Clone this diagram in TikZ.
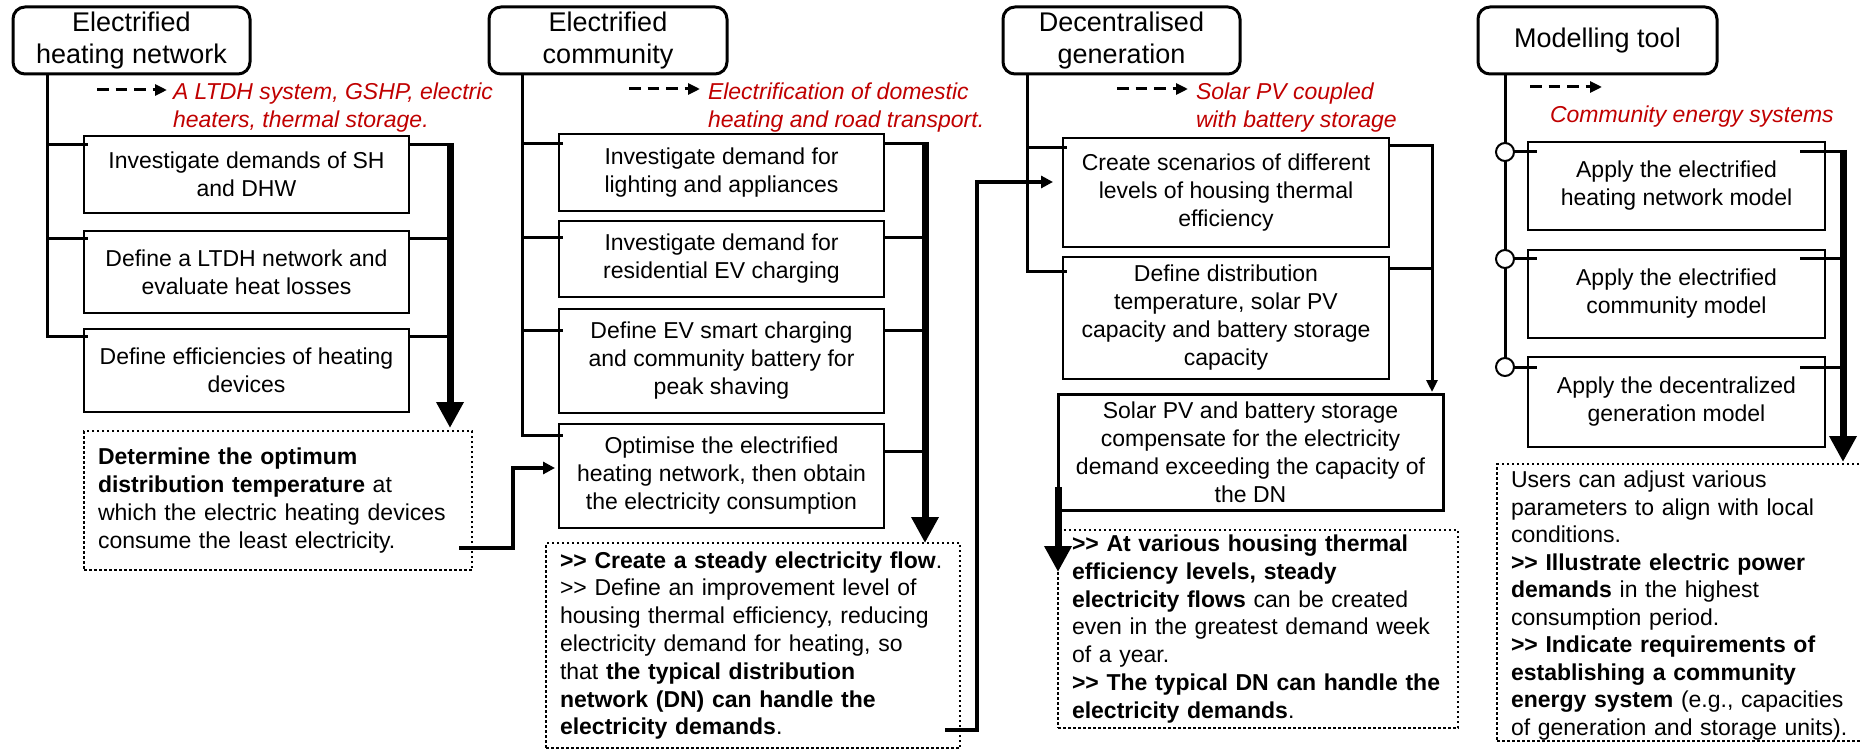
\documentclass[tikz,border=0pt]{standalone}
\usepackage{fontspec}
\setmainfont{Liberation Sans}
\usetikzlibrary{arrows.meta,calc}
\definecolor{myred}{RGB}{192,0,0}
\newcommand\GGt{>\kern0pt>}
\begin{document}
\begin{tikzpicture}[x=1pt,y=-1pt,
  every node/.style={inner sep=0pt, outer sep=0pt},
  ttl/.style={draw, line width=3pt, rounded corners=12pt, anchor=north west, align=center, font=\fontsize{27}{32.5}\selectfont},
  box/.style={draw, line width=2pt, anchor=north west, align=center, font=\fontsize{23}{28}\selectfont},
  note/.style={draw, line width=2.5pt, dash pattern=on 2.5pt off 2.5pt, anchor=north west, align=left, inner xsep=14pt, font=\fontsize{23}{27.8}\selectfont},
  redtxt/.style={anchor=north west, align=left, text=myred, font=\fontsize{23}{28}\selectfont\itshape},
  spine/.style={line width=3pt},
  branch/.style={line width=3pt},
  bigarrow/.style={line width=7pt, -{Triangle[length=26pt,width=26pt]}},
  conn/.style={line width=3.5pt, -{Triangle[length=12pt,width=12pt]}},
  thinarrow/.style={line width=3pt, -{Triangle[length=12pt,width=11pt]}},
  dasharrow/.style={line width=3pt, dash pattern=on 11.5pt off 7pt, -{Triangle[length=12pt,width=11pt]}},
]
\useasboundingbox (0,0) rectangle (1861,751);

% ================= Column 1 =================
\node[ttl, minimum width=237pt, minimum height=67pt] (t1) at (13,7) {Electrified\\heating network};
\node[redtxt] (r1) at (173,83) {A LTDH system, GSHP, electric\\heaters, thermal storage.};
\coordinate (da1) at (97,90);
\draw[dasharrow] (da1) -- ($(da1 -| r1.west)+(-6,0)$);
\node[box, minimum width=325pt, minimum height=77pt] (b11) at (84,136) {Investigate demands of SH\\and DHW};
\node[box, minimum width=325pt, minimum height=82pt] (b12) at (84,231) {Define a LTDH network and\\evaluate heat losses};
\node[box, minimum width=325pt, minimum height=83pt] (b13) at (84,329) {Define efficiencies of heating\\devices};
\node[note, minimum width=388pt, text width=360pt, minimum height=139pt] (d1) at (84,431)
 {\textbf{Determine the optimum}\\\textbf{distribution temperature} at\\which the electric heating devices\\consume the least electricity.};

\coordinate (s1) at (47,0);
\coordinate (v1) at (450,0);
\coordinate (k1) at (513,0);
\coordinate (j11) at ($(b11.north west)+(4,9)$);
\coordinate (j12) at ($(b12.north west)+(4,8)$);
\coordinate (j13) at ($(b13.north west)+(4,8)$);
\draw[spine] (t1.south -| s1) -- (s1 |- j13) -- (j13);
\draw[branch] (j11 -| s1) -- (j11);
\draw[branch] (j12 -| s1) -- (j12);
\coordinate (e11) at ($(b11.north east)+(0,9)$);
\coordinate (e12) at ($(b12.north east)+(0,8)$);
\coordinate (e13) at ($(b13.north east)+(0,8)$);
\draw[branch] (e11) -- (e11 -| v1);
\draw[branch] (e12) -- (e12 -| v1);
\draw[branch] (e13) -- (e13 -| v1);
\draw[bigarrow] ($(e11 -| v1)+(0,-2)$) -- ($(d1.north -| v1)+(0,-3)$);

% ================= Column 2 =================
\node[ttl, minimum width=238pt, minimum height=67pt] (t2) at (489,7) {Electrified\\community};
\node[redtxt] (r2) at (708,83) {Electrification of domestic\\heating and road transport.};
\coordinate (da2) at (629,89);
\draw[dasharrow] (da2) -- ($(da2 -| r2.west)+(-8,0)$);
\node[box, minimum width=325pt, minimum height=77pt] (b21) at (559,134) {Investigate demand for\\lighting and appliances};
\node[box, minimum width=325pt, minimum height=76pt] (b22) at (559,221) {Investigate demand for\\residential EV charging};
\node[box, minimum width=325pt, minimum height=104pt] (b23) at (559,309) {Define EV smart charging\\and community battery for\\peak shaving};
\node[box, minimum width=325pt, minimum height=104pt] (b24) at (559,424) {Optimise the electrified\\heating network, then obtain\\the electricity consumption};
\node[note, minimum width=414pt, text width=386pt, minimum height=205pt] (d2) at (546,543)
 {\textbf{\GGt{} Create a steady electricity flow}.\\\GGt{} Define an improvement level of\\housing thermal efficiency, reducing\\electricity demand for heating, so\\that \textbf{the typical distribution}\\\textbf{network (DN) can handle the}\\\textbf{electricity demands}.};

\coordinate (s2) at (522,0);
\coordinate (v2) at (925,0);
\coordinate (k2) at (977,0);
\coordinate (j21) at ($(b21.north west)+(4,10)$);
\coordinate (j22) at ($(b22.north west)+(4,17)$);
\coordinate (j23) at ($(b23.north west)+(4,22)$);
\coordinate (j24) at ($(b24.north west)+(4,11)$);
\draw[spine] (t2.south -| s2) -- (s2 |- j24) -- (j24);
\draw[branch] (j21 -| s2) -- (j21);
\draw[branch] (j22 -| s2) -- (j22);
\draw[branch] (j23 -| s2) -- (j23);
\coordinate (e21) at ($(b21.north east)+(0,10)$);
\coordinate (e22) at ($(b22.north east)+(0,17)$);
\coordinate (e23) at ($(b23.north east)+(0,22)$);
\coordinate (e24) at ($(b24.north east)+(0,27)$);
\draw[branch] (e21) -- (e21 -| v2);
\draw[branch] (e22) -- (e22 -| v2);
\draw[branch] (e23) -- (e23 -| v2);
\draw[branch] (e24) -- (e24 -| v2);
\draw[bigarrow] ($(e21 -| v2)+(0,-2)$) -- ($(d2.north -| v2)+(0,0)$);

% connector col1 -> col2
\coordinate (p1) at ($(d1.south east)+(-13,-22)$);
\coordinate (q1) at ($(b24.north west)+(-4,44)$);
\draw[conn] (p1) -| (k1 |- q1) -- (q1);

% ================= Column 3 =================
\node[ttl, minimum width=237pt, minimum height=67pt] (t3) at (1003,7) {Decentralised\\generation};
\node[redtxt] (r3) at (1196,83) {Solar PV coupled\\with battery storage};
\coordinate (da3) at (1117,89);
\draw[dasharrow] (da3) -- ($(da3 -| r3.west)+(-8,0)$);
\node[box, minimum width=326pt, minimum height=109pt] (b31) at (1063,138) {Create scenarios of different\\levels of housing thermal\\efficiency};
\node[box, minimum width=326pt, minimum height=122pt] (b32) at (1063,257) {Define distribution\\temperature, solar PV\\capacity and battery storage\\capacity};
\node[box, line width=3pt, minimum width=385pt, minimum height=116pt] (b33) at (1058,394) {Solar PV and battery storage\\compensate for the electricity\\demand exceeding the capacity of\\the DN};
\node[note, minimum width=400pt, text width=372pt, minimum height=198pt] (d3) at (1058,530)
 {\textbf{\GGt{} At various housing thermal}\\\textbf{efficiency levels, steady}\\\textbf{electricity flows} can be created\\even in the greatest demand week\\of a year.\\\textbf{\GGt{} The typical DN can handle the}\\\textbf{electricity demands}.};

\coordinate (s3) at (1027,0);
\coordinate (v3) at (1432,0);
\coordinate (j31) at ($(b31.north west)+(4,10)$);
\coordinate (j32) at ($(b32.north west)+(4,15)$);
\draw[spine] (t3.south -| s3) -- (s3 |- j32) -- (j32);
\draw[branch] (j31 -| s3) -- (j31);
\coordinate (e31) at ($(b31.north east)+(0,8)$);
\coordinate (e32) at ($(b32.north east)+(0,12)$);
\draw[thinarrow] (e31) -- (e31 -| v3) -- ($(b33.north -| v3)+(0,-2)$);
\draw[branch] (e32) -- (e32 -| v3);
\draw[bigarrow] ($(b33.south west)+(0,-23)$) -- ($(d3.north west)+(0,42)$);

% connector col2 -> col3
\coordinate (p2) at ($(d2.south east)+(-15,-18)$);
\coordinate (q2) at ($(b31.north west)+(-10,44)$);
\draw[conn] (p2) -| (k2 |- q2) -- (q2);

% ================= Column 4 =================
\node[ttl, minimum width=239pt, minimum height=67pt] (t4) at (1478,7) {Modelling tool};
\node[redtxt] (r4) at (1550,106) {Community energy systems};
\coordinate (da4) at (1530,87);
\coordinate (da4e) at (1602,87);
\draw[dasharrow] (da4) -- (da4e);
\node[box, minimum width=297pt, minimum height=88pt] (b41) at (1528,142) {Apply the electrified\\heating network model};
\node[box, minimum width=297pt, minimum height=88pt] (b42) at (1528,250) {Apply the electrified\\community model};
\node[box, minimum width=297pt, minimum height=90pt] (b43) at (1528,357) {Apply the decentralized\\generation model};
\node[note, minimum width=380pt, text width=352pt, minimum height=277pt, font=\fontsize{23}{27.5}\selectfont] (d4) at (1497,464)
 {\rule{0pt}{23pt}Users can adjust various\\parameters to align with local\\conditions.\\\textbf{\GGt{} Illustrate electric power}\\\textbf{demands} in the highest\\consumption period.\\\textbf{\GGt{} Indicate requirements of}\\\textbf{establishing a community}\\\textbf{energy system} (e.g., capacities\\of generation and storage units).};

\coordinate (v4) at (1843,0);
\coordinate (s4a) at (1505,152);
\coordinate (s4b) at (1505,259);
\coordinate (s4c) at (1505,367);
\draw[spine] (t4.south -| s4a) -- (s4c);
\node[circle, draw, fill=white, line width=2pt, minimum size=18pt] (c41) at (s4a) {};
\node[circle, draw, fill=white, line width=2pt, minimum size=18pt] (c42) at (s4b) {};
\node[circle, draw, fill=white, line width=2pt, minimum size=18pt] (c43) at (s4c) {};
\draw[branch] (c41.east) -- ($(b41.north west)+(9,10)$);
\draw[branch] (c42.east) -- ($(b42.north west)+(9,9)$);
\draw[branch] (c43.east) -- ($(b43.north west)+(9,10)$);
\coordinate (e41) at ($(b41.north east)+(-25,10)$);
\coordinate (e42) at ($(b42.north east)+(-25,9)$);
\coordinate (e43) at ($(b43.north east)+(-25,10)$);
\draw[branch] (e41) -- (e41 -| v4);
\draw[branch] (e42) -- (e42 -| v4);
\draw[branch] (e43) -- (e43 -| v4);
\draw[bigarrow] ($(e41 -| v4)+(0,-2)$) -- ($(d4.north -| v4)+(0,-2)$);
\end{tikzpicture}
\end{document}
